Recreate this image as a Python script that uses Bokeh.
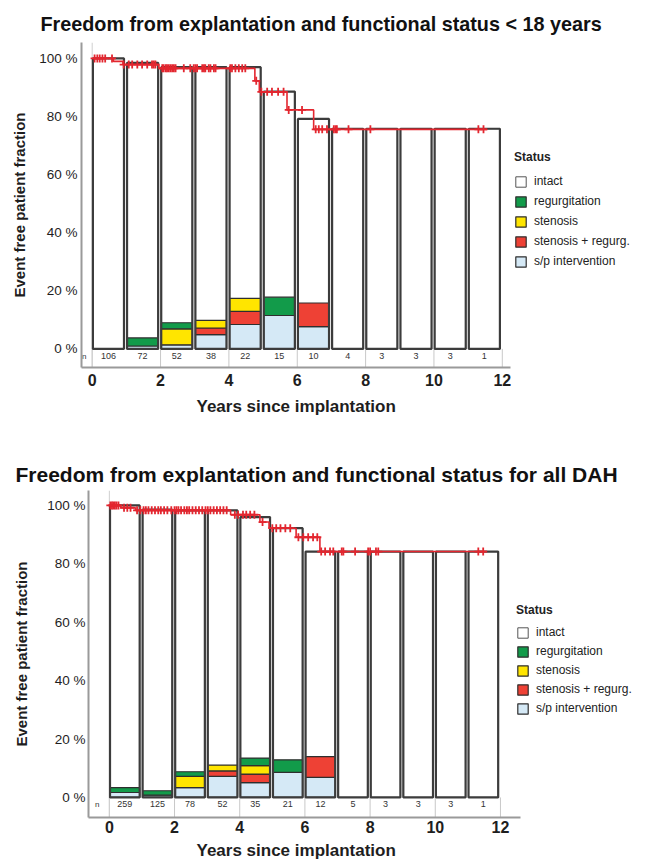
import numpy as np
from bokeh.plotting import figure
from bokeh.models import (ColumnDataSource, Legend, LegendItem, Range1d, Title,
                          FixedTicker, CustomJSTickFormatter)
from bokeh.embed import file_html
from bokeh.resources import INLINE
from bokeh.core.properties import value

FONT = "Liberation Sans"
RED = "#e3262f"
COLORS = {
    "intact": "#ffffff",
    "regurgitation": "#129b4a",
    "stenosis": "#ffe500",
    "stenosis + regurg.": "#ee4135",
    "s/p intervention": "#d5e9f6",
}

# yearly bins (start of each follow-up year)
years = list(range(12))
x_ticks = [0, 2, 4, 6, 8, 10, 12]
y_ticks = [0, 20, 40, 60, 80, 100]

# ---- patients < 18 years ----
title_young = "Freedom from explantation and functional status < 18 years"
n_young = [106, 72, 52, 38, 22, 15, 10, 4, 3, 3, 3, 1]
total_young = [100, 98.5, 97.0, 97.0, 97.0, 88.6, 79.2, 75.8, 75.8, 75.8, 75.8, 75.8]
sp_young = [0, 1.0, 1.4, 4.9, 8.4, 11.5, 7.7, 0, 0, 0, 0, 0]
sr_young = [0, 0, 0, 2.3, 4.5, 0, 8.1, 0, 0, 0, 0, 0]
st_young = [0, 0, 5.5, 2.6, 4.5, 0, 0, 0, 0, 0, 0, 0]
rg_young = [0, 2.8, 2.1, 0, 0, 6.3, 0, 0, 0, 0, 0, 0]
km_t_young = [0, 0.62, 0.90, 1.95, 4.76, 4.89, 5.70, 6.48]
km_s_young = [100, 99.0, 97.9, 96.6, 92.3, 88.5, 82.3, 75.6]
km_end_young = 11.55
cens_young = [0.07, 0.15, 0.22, 0.30, 0.38, 0.58, 0.92, 1.07, 1.17, 1.32, 1.46,
              1.61, 1.75, 1.80, 1.85, 2.05, 2.09, 2.15, 2.19, 2.24, 2.29, 2.34,
              2.39, 2.44, 2.68, 2.87, 2.97, 3.02, 3.07, 3.22, 3.27, 3.31, 3.41,
              3.46, 3.56, 3.61, 4.04, 4.09, 4.19, 4.29, 4.39, 4.48, 4.80, 4.95,
              5.12, 5.26, 5.44, 5.60, 5.75, 6.14, 6.54, 6.63, 6.73, 6.87, 7.07,
              7.12, 7.16, 7.50, 8.14, 11.30, 11.45]

# ---- all DAH ----
title_all = "Freedom from explantation and functional status for all DAH"
n_all = [259, 125, 78, 52, 35, 21, 12, 5, 3, 3, 3, 1]
total_all = [100, 98.6, 98.3, 98.3, 96.0, 92.2, 84.2, 84.2, 84.2, 84.2, 84.2, 84.2]
sp_all = [1.7, 0.8, 3.4, 7.2, 5.1, 8.6, 6.9, 0, 0, 0, 0, 0]
sr_all = [0, 0, 0, 1.9, 2.9, 0, 7.1, 0, 0, 0, 0, 0]
st_all = [0, 0, 3.8, 2.0, 2.9, 0, 0, 0, 0, 0, 0, 0]
rg_all = [1.7, 1.5, 1.6, 0, 2.6, 4.3, 0, 0, 0, 0, 0, 0]
km_t_all = [0, 0.35, 0.80, 3.72, 4.62, 4.90, 5.73, 6.46]
km_s_all = [100, 99.2, 98.3, 96.8, 94.3, 92.2, 89.1, 84.2]
km_end_all = 11.58
cens_all = [0.03, 0.08, 0.12, 0.17, 0.22, 0.28, 0.45, 0.55, 0.65, 0.85, 0.95,
            1.05, 1.12, 1.20, 1.30, 1.40, 1.50, 1.58, 1.68, 1.78, 1.90, 2.00,
            2.06, 2.12, 2.20, 2.30, 2.38, 2.45, 2.55, 2.65, 2.75, 2.85, 2.95,
            3.02, 3.10, 3.20, 3.30, 3.40, 3.50, 3.60, 3.85, 3.95, 4.10, 4.20,
            4.32, 4.45, 4.70, 5.00, 5.12, 5.25, 5.40, 5.55, 5.80, 5.95, 6.10,
            6.25, 6.38, 6.50, 6.62, 6.77, 6.87, 7.13, 7.18, 7.54, 7.94, 8.00,
            8.18, 8.25, 11.32, 11.47]


def build(title, n, total, sp, sr, st, rg, km_t, km_s, km_end, cens, g):
    p = figure(width=645, height=432, output_backend="svg", toolbar_location=None,
               x_range=Range1d(*g["xr"]), y_range=Range1d(*g["yr"]),
               min_border_left=g["mbl"], min_border_right=0,
               min_border_top=g["mbt"], min_border_bottom=g["mbb"])
    p.outline_line_color = None
    p.grid.visible = False
    p.background_fill_color = "white"

    # main axes
    xax = p.below[0]
    yax = p.left[0]
    xax.ticker = FixedTicker(ticks=x_ticks)
    yax.ticker = FixedTicker(ticks=y_ticks)
    yax.formatter = CustomJSTickFormatter(code="return tick + ' %';")
    xax.bounds = g["xb"]
    for ax in (xax, yax):
        ax.major_tick_line_color = None
        ax.minor_tick_line_color = None
        ax.major_tick_out = 0
        ax.major_tick_in = 0
        ax.axis_line_color = "#9a9a9a"
        ax.axis_line_width = 2
        ax.major_label_text_font = FONT
        ax.major_label_text_color = "#1e1e1e"
        ax.axis_label_text_font = FONT
        ax.axis_label_text_font_style = "bold"
        ax.axis_label_text_color = "#1e1e1e"
    yax.major_label_text_font_size = "13.5px"
    xax.major_label_text_font_size = "16px"
    xax.major_label_text_font_style = "bold"
    yax.axis_label = "Event free patient fraction"
    yax.axis_label_text_font_size = "15px"
    yax.major_label_standoff = g["yls"]
    yax.axis_label_standoff = g["yas"]
    xax.major_label_standoff = g["xls"]

    # chart title
    p.add_layout(Title(text=title, align="left", offset=g["toff"], standoff=g["tst"],
                       vertical_align="bottom", text_font=FONT, text_font_style="bold",
                       text_font_size=g["tfs"], text_color="#111111"), "above")

    # x axis title, placed under the tick labels
    p.add_layout(Title(text="Years since implantation", align="left", offset=g["xoff"],
                       standoff=g["xst"], vertical_align="bottom", text_font=FONT,
                       text_font_style="bold", text_font_size="17px",
                       text_color="#1e1e1e"), "below")

    ymin = g["yr"][0]
    # separators of the patient-count row and the year-0 line
    p.segment(x0=x_ticks, x1=x_ticks, y0=[0] * len(x_ticks), y1=[ymin] * len(x_ticks),
              line_color="#c8c8c8", line_width=1)
    p.segment(x0=[0], x1=[0], y0=[ymin], y1=[g["yr"][1]], line_color="#cfcfcf",
              line_width=1)

    left = [y + 0.02 for y in years]
    right = [y + 0.93 for y in years]

    renderers = {}
    # white bar body (event free fraction)
    renderers["intact"] = p.quad(left=left, right=right, bottom=[0] * 12, top=total,
                                 fill_color="white", line_color="#555555", line_width=1)

    # stacked functional status
    base = np.zeros(12)
    for name, vals in (("s/p intervention", sp), ("stenosis + regurg.", sr),
                       ("stenosis", st), ("regurgitation", rg)):
        vals = np.array(vals, dtype=float)
        mask = vals > 0
        src = ColumnDataSource(dict(left=np.array(left)[mask], right=np.array(right)[mask],
                                    bottom=base[mask], top=(base + vals)[mask]))
        r = p.quad(left="left", right="right", bottom="bottom", top="top", source=src,
                   fill_color=COLORS[name], line_color="#2e2e2e", line_width=1.2)
        renderers[name] = r
        base = base + vals

    # bar outlines
    p.quad(left=left, right=right, bottom=[0] * 12, top=total,
           fill_alpha=0, line_color="#3c3c3c", line_width=2.2)

    # patient counts
    p.text(x=[y + 0.475 for y in years], y=[g["ny"]] * 12, text=[str(v) for v in n],
           text_font=value(FONT), text_font_size="9px", text_color="#333333",
           text_align="center", text_baseline="middle")
    p.text(x=[g["nx"]], y=[g["ny"]], text=["n"], text_font=value(FONT),
           text_font_size="8px", text_color="#333333", text_align="center",
           text_baseline="middle")

    # Kaplan-Meier curve
    kx = list(km_t) + [km_end]
    ky = list(km_s) + [km_s[-1]]
    p.step(x=kx, y=ky, mode="after", line_color=RED, line_width=1.6)
    ct = np.array(cens)
    idx = np.searchsorted(np.array(km_t), ct, side="right") - 1
    cy = np.array(km_s)[idx]
    p.scatter(x=ct, y=cy, marker="cross", size=8, line_color=RED, line_width=1.8)

    # legend
    items = [LegendItem(label=k, renderers=[renderers[k]]) for k in COLORS]
    leg = Legend(items=items, location=g["leg"], title="Status",
                 title_text_font=FONT, title_text_font_style="bold",
                 title_text_font_size="12px", title_text_color="#222222",
                 title_standoff=g["lts"], label_text_font=FONT, label_text_font_size="12px",
                 label_text_color="#222222", glyph_width=13, glyph_height=13,
                 label_height=13, spacing=g["lsp"], label_standoff=7, padding=0, margin=0,
                 border_line_color=None, background_fill_alpha=0)
    p.add_layout(leg)
    return p


# frame spans to the right edge; the x axis itself stops at 12+ years
g_young = dict(xr=(-0.313, 16.19), xb=(-0.313, 12.24), yr=(-6.4, 105.5),
               mbl=81, mbt=42, mbb=65, yls=4, yas=8, xls=6, xoff=115, xst=12,
               ny=-2.6, nx=-0.23, leg=(433, 99), lsp=6, lts=10,
               toff=-41, tst=16, tfs="19.8px")
g_all = dict(xr=(-0.64, 16.45), xb=(-0.64, 12.61), yr=(-6.86, 105.1),
             mbl=88, mbt=58, mbb=47, yls=3, yas=14, xls=3, xoff=108, xst=7,
             ny=-2.4, nx=-0.37, leg=(428, 102), lsp=5, lts=8,
             toff=-73, tst=10, tfs="21px")

p1 = build(title_young, n_young, total_young, sp_young, sr_young, st_young, rg_young,
           km_t_young, km_s_young, km_end_young, cens_young, g_young)
p2 = build(title_all, n_all, total_all, sp_all, sr_all, st_all, rg_all,
           km_t_all, km_s_all, km_end_all, cens_all, g_all)

# two independent roots, stacked on the page
open("out.html", "w").write(file_html([p1, p2], INLINE))
